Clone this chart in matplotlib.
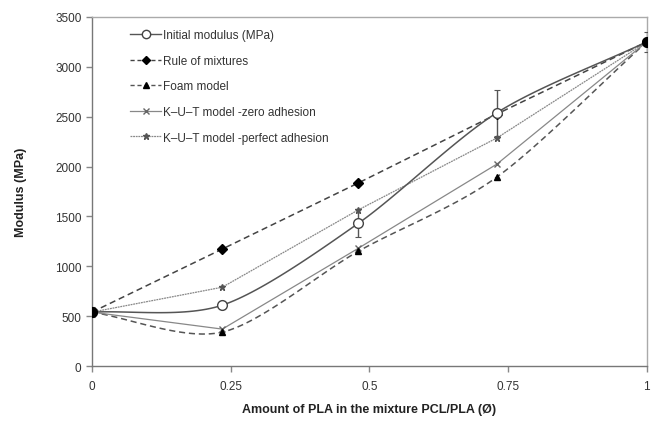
import numpy as np
import matplotlib
matplotlib.use("Agg")
import matplotlib.pyplot as plt
from matplotlib.lines import Line2D

plt.rcParams['font.family'] = ['Liberation Sans', 'DejaVu Sans']

x = [0, 0.235, 0.48, 0.73, 1.0]
initial_modulus = [540, 610, 1430, 2540, 3250]
initial_err = [50, 40, 140, 230, 100]
rule_of_mixtures = [540, 1173, 1835, 2527, 3250]
foam_model = [540, 340, 1150, 1895, 3250]
kut_zero = [540, 370, 1180, 2025, 3250]
kut_perfect = [540, 790, 1565, 2287, 3250]

x_ticks = [0, 0.25, 0.5, 0.75, 1]
x_tick_labels = ['0', '0.25', '0.5', '0.75', '1']
y_ticks = [0, 500, 1000, 1500, 2000, 2500, 3000, 3500]


def smooth(xs, ys, n=30, k=7.0):
    # Catmull-Rom style smoothing used only to render a "smoothed line"
    xs = np.asarray(xs, float); ys = np.asarray(ys, float)
    px = np.concatenate([[2 * xs[0] - xs[1]], xs, [2 * xs[-1] - xs[-2]]])
    py = np.concatenate([[2 * ys[0] - ys[1]], ys, [2 * ys[-1] - ys[-2]]])
    ox, oy = [], []
    for i in range(1, len(px) - 2):
        t = np.linspace(0, 1, n, endpoint=False)
        p0, p1, p2, p3 = [np.array([px[j], py[j]]) for j in range(i - 1, i + 3)]
        c1 = p1 + (p2 - p0) / k
        c2 = p2 - (p3 - p1) / k
        for tt in t:
            b = ((1 - tt) ** 3) * p1 + 3 * ((1 - tt) ** 2) * tt * c1 + 3 * (1 - tt) * tt ** 2 * c2 + tt ** 3 * p2
            ox.append(b[0]); oy.append(b[1])
    ox.append(xs[-1]); oy.append(ys[-1])
    return np.array(ox), np.array(oy)


fig = plt.figure(figsize=(6.52, 4.27), dpi=100)
ax = fig.add_axes([0.141, 0.1405, 0.851, 0.8175])

# Rule of mixtures
ax.plot(x, rule_of_mixtures, color='#444444', lw=1.1, ls=(0, (4, 2.5)), zorder=2)
ax.plot(x, rule_of_mixtures, ls='none', marker='D', ms=5, color='black', zorder=4)
# Foam model
fx, fy = smooth(x, foam_model)
ax.plot(fx, fy, color='#555555', lw=1.1, ls=(0, (4, 2.5)), zorder=2)
ax.plot(x, foam_model, ls='none', marker='^', ms=4.5, color='black', zorder=4)
# K-U-T zero adhesion
ax.plot(x, kut_zero, color='#888888', lw=0.9, marker='x', ms=5, mec='#666666', zorder=2)
# K-U-T perfect adhesion
ax.plot(x, kut_perfect, color='#888888', lw=0.9, ls=(0, (1.5, 0.6)),
        marker='*', ms=5, mfc='#555555', mec='#555555', zorder=2)
# Initial modulus
ix, iy = smooth(x, initial_modulus)
ax.plot(ix, iy, color='#555555', lw=1.1, zorder=3)
ax.errorbar(x, initial_modulus, yerr=initial_err, fmt='none', ecolor='#555555', elinewidth=1,
            capsize=2.5, capthick=0.8, zorder=3)
ax.plot(x, initial_modulus, ls='none', marker='o', ms=7, mfc='white', mec='#444444', mew=1, zorder=5)
ax.plot([x[0], x[-1]], [initial_modulus[0], initial_modulus[-1]], ls='none', marker='o', ms=7,
        color='black', zorder=6)

ax.set_xlim(0, 1)
ax.set_ylim(0, 3500)
ax.set_xticks(x_ticks)
ax.set_xticklabels(x_tick_labels)
ax.set_yticks(y_ticks)
for name, s in ax.spines.items():
    s.set_color('#777777' if name in ('left', 'bottom') else '#aaaaaa')
    s.set_linewidth(1)
ax.tick_params(direction='out', length=4, color='#888888', labelsize=8.5, labelcolor='#333333', width=1)
ax.tick_params(axis='x', pad=6)
ax.set_xlabel('Amount of PLA in the mixture PCL/PLA (Ø)', fontsize=9, fontweight='bold',
              color='#222222', labelpad=8)
ax.set_ylabel('Modulus (MPa)', fontsize=9, fontweight='bold', color='#222222', labelpad=20)

handles = [
    Line2D([], [], color='#555555', lw=1, marker='o', ms=6, mfc='white', mec='#444444'),
    Line2D([], [], color='#444444', lw=1, ls=(0, (3, 2)), marker='D', ms=4, mfc='black', mec='black'),
    Line2D([], [], color='#555555', lw=1, ls=(0, (3, 2)), marker='^', ms=4, mfc='black', mec='black'),
    Line2D([], [], color='#888888', lw=0.9, marker='x', ms=4.5, mec='#666666'),
    Line2D([], [], color='#888888', lw=0.9, ls=(0, (1.5, 0.6)), marker='*', ms=4.5, mfc='#555555', mec='#555555'),
]
labels = ['Initial modulus (MPa)', 'Rule of mixtures', 'Foam model',
          'K\u2013U\u2013T model -zero adhesion', 'K\u2013U\u2013T model -perfect adhesion']
leg = ax.legend(handles, labels, loc='upper left', bbox_to_anchor=(0.05, 0.995), frameon=False,
                fontsize=8.5, handlelength=2.6, handletextpad=0.2, labelspacing=1.15,
                labelcolor='#333333')

fig.savefig('out.png', dpi=100)
